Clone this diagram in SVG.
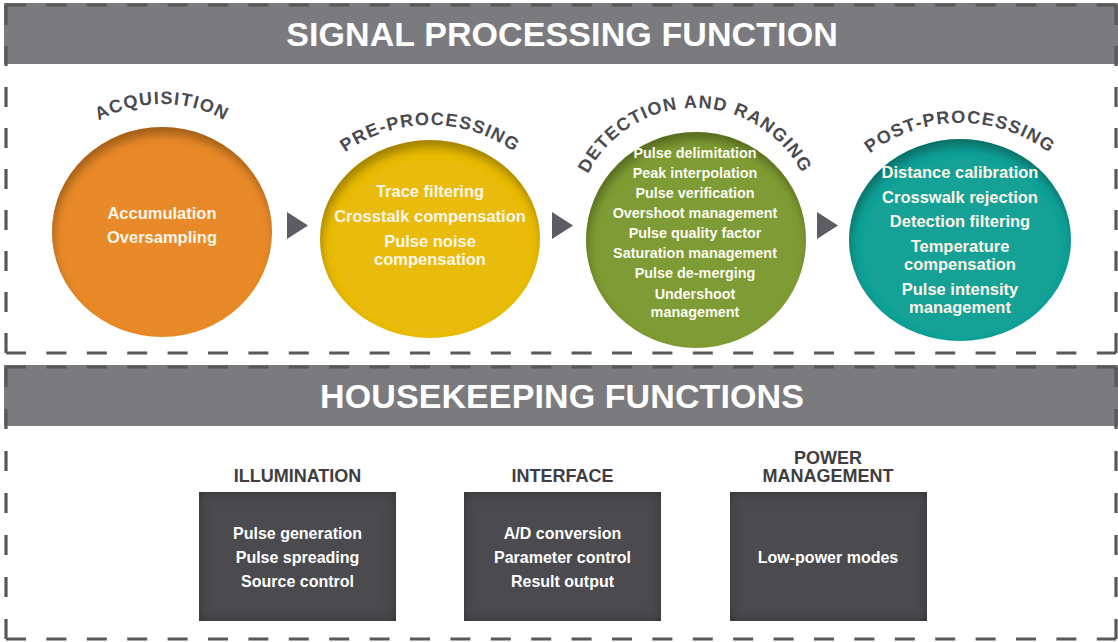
<svg xmlns="http://www.w3.org/2000/svg" width="1118" height="642" viewBox="0 0 1118 642">
<defs>
<style>
.bar{fill:#7b7b7f}
.title{font-family:"Liberation Sans",Arial,sans-serif;font-weight:bold;font-size:34px;letter-spacing:0.1px;fill:#ffffff;text-anchor:middle}
.dash{stroke:#58585b;stroke-width:3.2;fill:none}
.arc{font-family:"Liberation Sans",Arial,sans-serif;font-weight:bold;font-size:18px;letter-spacing:1.3px;fill:#4a4a50}
.ct{font-family:"Liberation Sans",Arial,sans-serif;font-weight:bold;font-size:16.5px;fill:#fdf6e8;text-anchor:middle}
.gt{font-family:"Liberation Sans",Arial,sans-serif;font-weight:bold;font-size:14.4px;fill:#fbfbf2;text-anchor:middle}
.lbl{font-family:"Liberation Sans",Arial,sans-serif;font-weight:bold;font-size:18px;fill:#3e3e42;text-anchor:middle}
.bt{font-family:"Liberation Sans",Arial,sans-serif;font-weight:bold;font-size:16px;fill:#ffffff;text-anchor:middle}
.box{fill:#4c4c50}
.arrow{fill:#5c5c64}
</style>
<filter id="inset" x="-10%" y="-10%" width="120%" height="120%">
<feGaussianBlur in="SourceAlpha" stdDeviation="5" result="b"/>
<feOffset in="b" dx="2" dy="8" result="o"/>
<feComposite in="SourceAlpha" in2="o" operator="out" result="s"/>
<feFlood flood-color="#000" flood-opacity="0.55"/>
<feComposite in2="s" operator="in" result="sh"/>
<feMerge><feMergeNode in="SourceGraphic"/><feMergeNode in="sh"/></feMerge>
</filter>
<filter id="boxin" x="-10%" y="-10%" width="120%" height="120%">
<feGaussianBlur in="SourceAlpha" stdDeviation="6" result="b"/>
<feComposite in="SourceAlpha" in2="b" operator="out" result="s"/>
<feFlood flood-color="#1e1e20" flood-opacity="0.7"/>
<feComposite in2="s" operator="in" result="sh"/>
<feMerge><feMergeNode in="SourceGraphic"/><feMergeNode in="sh"/></feMerge>
</filter>
<path id="arcAcq" d="M34,232 A128,128 0 0 1 290,232"/>
<path id="arcPre" d="M285,270 A145,145 0 0 1 575,270"/>
<path id="arcDet" d="M575,228 A120,120 0 0 1 815,228"/>
<path id="arcPost" d="M812,271 A148,148 0 0 1 1108,271"/>
</defs>
<rect width="1118" height="642" fill="#ffffff"/>

<g id="signal-header">
<rect class="bar" x="4" y="3" width="1114" height="61"/>
<text class="title" x="562" y="46">SIGNAL PROCESSING FUNCTION</text>
</g>
<g id="housekeeping-header">
<rect class="bar" x="4" y="365" width="1114" height="61"/>
<text class="title" x="562" y="408">HOUSEKEEPING FUNCTIONS</text>
</g>

<g id="borders">
<line class="dash" x1="6" y1="5" x2="1116" y2="5" stroke-dasharray="20 20.4"/>
<line class="dash" x1="6" y1="353" x2="1116" y2="353" stroke-dasharray="20 20.4"/>
<line class="dash" x1="6" y1="5" x2="6" y2="353" stroke-dasharray="20 21"/>
<line class="dash" x1="1116" y1="5" x2="1116" y2="353" stroke-dasharray="20 21"/>
<line class="dash" x1="6" y1="367" x2="1116" y2="367" stroke-dasharray="20 20.4"/>
<line class="dash" x1="6" y1="639" x2="1116" y2="639" stroke-dasharray="20 20.4"/>
<line class="dash" x1="6" y1="367" x2="6" y2="639" stroke-dasharray="20 22"/>
<line class="dash" x1="1116" y1="367" x2="1116" y2="639" stroke-dasharray="20 22"/>
</g>

<g id="acquisition">
<ellipse cx="162" cy="232" rx="110" ry="105" fill="#e98a2b" filter="url(#inset)"/>
<text class="arc"><textPath href="#arcAcq" startOffset="50%" text-anchor="middle">ACQUISITION</textPath></text>
<text class="ct" x="162" y="219">Accumulation</text>
<text class="ct" x="162" y="243">Oversampling</text>
</g>

<g id="pre-processing">
<ellipse cx="430" cy="239" rx="110" ry="99" fill="#e9bb10" filter="url(#inset)"/>
<text class="arc"><textPath href="#arcPre" startOffset="50%" text-anchor="middle">PRE-PROCESSING</textPath></text>
<text class="ct" x="430" y="197">Trace filtering</text>
<text class="ct" x="430" y="222">Crosstalk compensation</text>
<text class="ct" x="430" y="247">Pulse noise</text>
<text class="ct" x="430" y="265">compensation</text>
</g>

<g id="detection-ranging">
<ellipse cx="696" cy="240" rx="110" ry="108" fill="#7f9b36" filter="url(#inset)"/>
<text class="arc"><textPath href="#arcDet" startOffset="50%" text-anchor="middle">DETECTION AND RANGING</textPath></text>
<text class="gt" x="695" y="158">Pulse delimitation</text>
<text class="gt" x="695" y="178">Peak interpolation</text>
<text class="gt" x="695" y="198">Pulse verification</text>
<text class="gt" x="695" y="218">Overshoot management</text>
<text class="gt" x="695" y="238">Pulse quality factor</text>
<text class="gt" x="695" y="258">Saturation management</text>
<text class="gt" x="695" y="278">Pulse de-merging</text>
<text class="gt" x="695" y="299">Undershoot</text>
<text class="gt" x="695" y="317">management</text>
</g>

<g id="post-processing">
<ellipse cx="960" cy="240" rx="111" ry="101" fill="#14a197" filter="url(#inset)"/>
<text class="arc"><textPath href="#arcPost" startOffset="50%" text-anchor="middle">POST-PROCESSING</textPath></text>
<text class="ct" x="960" y="178">Distance calibration</text>
<text class="ct" x="960" y="203">Crosswalk rejection</text>
<text class="ct" x="960" y="227">Detection filtering</text>
<text class="ct" x="960" y="252">Temperature</text>
<text class="ct" x="960" y="270">compensation</text>
<text class="ct" x="960" y="295">Pulse intensity</text>
<text class="ct" x="960" y="313">management</text>
</g>

<g id="connectors">
<polygon class="arrow" points="287,212 308,225.5 287,239"/>
<polygon class="arrow" points="552,212 573,225.5 552,239"/>
<polygon class="arrow" points="817,212 838,225.5 817,239"/>
</g>

<g id="illumination">
<text class="lbl" x="297.5" y="482">ILLUMINATION</text>
<rect class="box" x="199" y="492" width="197" height="129" filter="url(#boxin)"/>
<text class="bt" x="297.5" y="539">Pulse generation</text>
<text class="bt" x="297.5" y="563">Pulse spreading</text>
<text class="bt" x="297.5" y="587">Source control</text>
</g>

<g id="interface">
<text class="lbl" x="562.5" y="482">INTERFACE</text>
<rect class="box" x="464" y="492" width="197" height="129" filter="url(#boxin)"/>
<text class="bt" x="562.5" y="539">A/D conversion</text>
<text class="bt" x="562.5" y="563">Parameter control</text>
<text class="bt" x="562.5" y="587">Result output</text>
</g>

<g id="power-management">
<text class="lbl" x="828" y="464">POWER</text>
<text class="lbl" x="828" y="482">MANAGEMENT</text>
<rect class="box" x="730" y="492" width="197" height="129" filter="url(#boxin)"/>
<text class="bt" x="828" y="563">Low-power modes</text>
</g>
</svg>
